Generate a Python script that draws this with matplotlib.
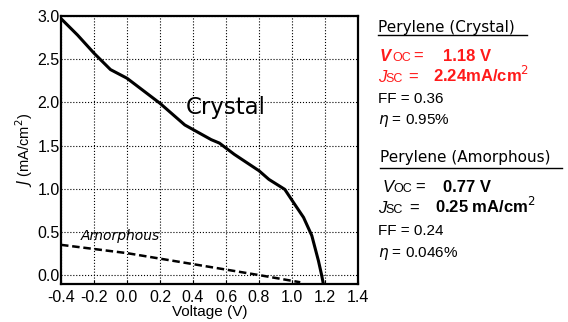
import matplotlib
matplotlib.use('Agg')
from matplotlib import pyplot as plt
from matplotlib.lines import Line2D

# J-V curves for perylene cells
crystal_v = [-0.40, -0.30, -0.20, -0.10, 0.00, 0.20, 0.35, 0.51, 0.56, 0.65, 0.80, 0.86,
             0.956, 1.017, 1.07, 1.12, 1.16, 1.18, 1.19]
crystal_j = [2.97, 2.78, 2.57, 2.38, 2.28, 1.99, 1.74, 1.57, 1.53, 1.40, 1.21, 1.11,
             0.995, 0.82, 0.67, 0.46, 0.17, 0.00, -0.10]

amorph_v = [-0.40, 0.00, 0.40, 0.81, 1.05]
amorph_j = [0.353, 0.257, 0.13, 0.00, -0.08]

xticks = [-0.4, -0.2, 0.0, 0.2, 0.4, 0.6, 0.8, 1.0, 1.2, 1.4]
yticks = [0.0, 0.5, 1.0, 1.5, 2.0, 2.5, 3.0]

W, H = 568, 322
fig = plt.figure(figsize=(W / 100, H / 100), dpi=100)
ax = fig.add_axes([61 / W, 1 - 284 / H, 297 / W, 268 / H])

ax.plot(crystal_v, crystal_j, color='black', lw=2.2)
ax.plot(amorph_v, amorph_j, color='black', lw=1.8, ls=(0, (3, 1.5)))

ax.set_xlim(-0.4, 1.4)
ax.set_ylim(-0.1, 3.0)
ax.set_xticks(xticks)
ax.set_yticks(yticks)
ax.set_xticklabels(['%.1f' % v for v in xticks], family='Liberation Sans', fontsize=11.5)
ax.set_yticklabels(['%.1f' % v for v in yticks], family='Liberation Sans', fontsize=11.5)
ax.tick_params(axis='x', direction='in', length=3, width=0.8, pad=4)
ax.tick_params(axis='y', direction='in', length=0, pad=1)
ax.grid(True, color='black', ls=':', lw=0.8)
for s in ax.spines.values():
    s.set_linewidth(1.6)

ax.set_xlabel('Voltage (V)', family='Liberation Sans', fontsize=11, labelpad=0)
ax.set_ylabel(r'$J$ (mA/cm$^2$)', family='Liberation Sans', fontsize=10.5, labelpad=2)

ax.text(0.6, 1.94, 'Crystal', fontsize=16.5, family='DejaVu Sans', ha='center', va='center')
ax.text(-0.28, 0.46, 'Amorphous', fontsize=10, family='DejaVu Sans', style='italic', va='center')


def put(x, y, s, **kw):
    fig.text(x / W, 1 - y / H, s, va='baseline', **kw)


def underline(x0, x1, y):
    fig.add_artist(Line2D([x0 / W, x1 / W], [1 - y / H, 1 - y / H], color='black', lw=1.0))


# Crystal parameters
put(378, 32, 'Perylene (Crystal)', fontsize=11, family='DejaVu Sans')
underline(378, 527, 34.5)
red = '#ff1a1a'
put(380, 61, 'V', fontsize=12, color=red, style='italic', weight='bold', family='Liberation Sans')
put(392, 61, 'OC', fontsize=9, color=red, family='Liberation Sans')
put(413, 61, '=', fontsize=12, color=red, family='Liberation Sans')
put(443, 61, '1.18 V', fontsize=12, color=red, weight='bold', family='Liberation Sans')
put(378, 82, 'J', fontsize=12, color=red, style='italic', family='Liberation Sans')
put(385, 82, 'SC', fontsize=9, color=red, family='Liberation Sans')
put(408, 82, '=', fontsize=12, color=red, family='Liberation Sans')
put(433, 82, '2.24mA/cm$^2$', fontsize=12, color=red, weight='bold', family='Liberation Sans')
put(378, 103, 'FF = 0.36', fontsize=11, family='Liberation Sans')
put(378, 124, r'$\eta$ = 0.95%', fontsize=11, family='Liberation Sans')

# Amorphous parameters
put(380, 162, 'Perylene (Amorphous)', fontsize=11, family='DejaVu Sans')
underline(380, 562, 168)
put(383, 192, 'V', fontsize=12, style='italic', family='Liberation Sans')
put(393, 192, 'OC', fontsize=9, family='Liberation Sans')
put(415, 192, '=', fontsize=12, family='Liberation Sans')
put(443, 192, '0.77 V', fontsize=12, weight='bold', family='Liberation Sans')
put(378, 213, 'J', fontsize=12, style='italic', family='Liberation Sans')
put(385, 213, 'SC', fontsize=9, family='Liberation Sans')
put(409, 213, '=', fontsize=12, family='Liberation Sans')
put(435, 213, '0.25 mA/cm$^2$', fontsize=12, weight='bold', family='Liberation Sans')
put(378, 235, 'FF = 0.24', fontsize=11, family='Liberation Sans')
put(378, 257, r'$\eta$ = 0.046%', fontsize=11, family='Liberation Sans')

fig.savefig('out.png', dpi=100)
